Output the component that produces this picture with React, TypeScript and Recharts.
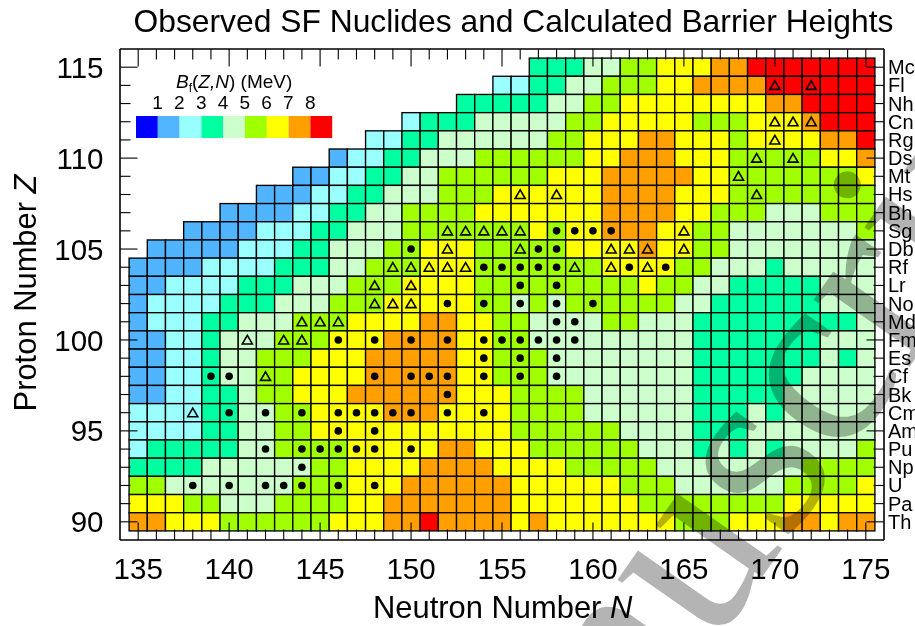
import { ScatterChart, Scatter, XAxis, YAxis } from "recharts";

// Barrier band per cell, one string per proton number, from Z=115 down to Z=90.
// Every row ends at N=175. Band k means B_f between k and k+1 MeV; spaces only group runs.
const rowsByZ = [
  "333 44 55 666 77 8888888",
  "22 33 44 555 66 7777 888888",
  "33333 44 55 66666666 77 8888",
  "2 333 44444 55 66666 555 666 7 888",
  "22 33 444444 55 666 77 666 5 6666 77 8",
  "1 22 33 444 555555 66 777 666 55555 66 7",
  "11 22 33 44 555555 666 77777 66 5555555 6",
  "111 22 33 444 555 666666 7777 666 55555555",
  "1111 22 33 44 5555 6666666 7777 66 555 444 555",
  "1111 222 33 444 5555555 6 5 66 777 66 55 4444444 5",
  "11111 222 33 444 55 666 55555 6666 7 66 55 44444444",
  "1111 2222 333 44 555 666 5555555 6666 55 444 3 44444",
  "11 2222 333 444 555 6666 555555555 6 55 44 33333 444",
  "1 2222 333 444 555 66666 55 4 5 4 555555 44 333333 444",
  "1 222 33 444 555 6666 77 66 55 4444 55 444 333333333 4",
  "11 22 3 444 555 666 7777 66 55 444444444 3333333 444",
  "11 22 3 44 555 666 77777 66 555 44444444 3333333 4 3 4",
  "11 22 3 44 55 6666 77777 66 555 44444444 333333 4444",
  "11 22 33 4 55 666 777777 666 5555 444444 33333 44444",
  "2222 33 44 55 6666 777 6666 5555 444444 333 4 3 44444",
  "2222 33 44 55 66666666666 555555 4444 333 4444444",
  "2 33333 44 5555 66666 77 666 555555 444 3 4 3 4 3 4444 5",
  "3333 444444 55 6666 7777 6666 55555 44444444 5555",
  "55 4444444 555 666 777777 666666 555 444444 5555 6",
  "666 55 444 5555 66 7777777 6666666 55555555 66666",
  "77 666 555555 666 77 8 7777 6 7 6666666 555 666 77 6 77",
];

// Observed spontaneous fission nuclides: neutron numbers per proton number
const measuredSF: [number, number[]][] = [
  [106, [158, 159, 160, 161]],
  [105, [150, 157, 158]],
  [104, [154, 155, 156, 157, 158, 162, 164]],
  [103, [156, 158]],
  [102, [152, 154, 156, 158, 160]],
  [101, [158, 159]],
  [100, [146, 148, 150, 152, 154, 155, 156, 157, 158, 159]],
  [99, [154, 156, 158]],
  [98, [139, 140, 148, 150, 151, 152, 154, 156, 158]],
  [97, [152]],
  [96, [140, 142, 144, 146, 147, 148, 149, 150, 152, 154]],
  [95, [146, 148]],
  [94, [142, 144, 145, 146, 147, 148, 150]],
  [93, [144]],
  [92, [138, 140, 142, 143, 144, 146, 148]],
];
const partialSF: [number, number[]][] = [
  [114, [170, 172]],
  [112, [170, 171, 172]],
  [111, [170]],
  [110, [169, 171]],
  [109, [168]],
  [108, [156, 158, 169]],
  [106, [152, 153, 154, 155, 156, 165]],
  [105, [152, 156, 161, 162, 163, 165]],
  [104, [149, 150, 151, 152, 153, 159, 161, 163]],
  [103, [148, 150]],
  [102, [148, 149, 150]],
  [101, [144, 145, 146]],
  [100, [141, 143, 144]],
  [98, [142]],
  [96, [138]],
];

const elements = [
  "Th", "Pa", "U", "Np", "Pu", "Am", "Cm", "Bk", "Cf", "Es", "Fm", "Md", "No",
  "Lr", "Rf", "Db", "Sg", "Bh", "Hs", "Mt", "Ds", "Rg", "Cn", "Nh", "Fl", "Mc",
];
const neutronTicks = [
  135, 136, 137, 138, 139, 140, 141, 142, 143, 144, 145, 146, 147, 148, 149, 150, 151, 152, 153, 154, 155,
  156, 157, 158, 159, 160, 161, 162, 163, 164, 165, 166, 167, 168, 169, 170, 171, 172, 173, 174, 175,
];
const protonTicks = [
  90, 91, 92, 93, 94, 95, 96, 97, 98, 99, 100, 101, 102, 103, 104, 105, 106, 107, 108, 109, 110, 111, 112,
  113, 114, 115,
];
const bandColors = ["#0000ff", "#50b4ff", "#99ffff", "#00ffa0", "#ccffcc", "#a0ff00", "#ffff00", "#ffa000", "#ff0000"];
const legendLabels = ["1", "2", "3", "4", "5", "6", "7", "8"];

const CELL_W = 764 / 42;
const CELL_H = 491 / 27;
const FONT = "'Liberation Sans', Arial, sans-serif";

const cells = rowsByZ.flatMap((row, i) => {
  const bands = row.replace(/ /g, "");
  return bands.split("").map((b, j) => ({
    n: 176 - bands.length + j,
    z: 115 - i,
    band: Number(b),
  }));
});
const toPoints = (list: [number, number[]][]) => list.flatMap(([z, ns]) => ns.map((n) => ({ n, z })));
const circles = toPoints(measuredSF);
const triangles = toPoints(partialSF);

const CellShape = (p: any) => (
  <rect
    x={p.cx - CELL_W / 2}
    y={p.cy - CELL_H / 2}
    width={CELL_W}
    height={CELL_H}
    fill={bandColors[p.payload.band]}
    stroke="#000"
    strokeWidth={1.35}
  />
);
const CircleShape = (p: any) => <circle cx={p.cx} cy={p.cy} r={3.8} fill="#000" />;
const TriangleShape = (p: any) => (
  <path
    d={`M${p.cx - 5} ${p.cy + 4}L${p.cx} ${p.cy - 4.6}L${p.cx + 5} ${p.cy + 4}Z`}
    fill="none"
    stroke="#000"
    strokeWidth={1.6}
  />
);
// Only there so that the top and right axes have a series and draw their ticks
const NoShape = () => null;

// Ticks point inward on all four sides, long ones every 5
const BottomTick = (p: any) => {
  const v = p.payload.value;
  const major = v % 5 === 0;
  return (
    <g>
      <line x1={p.x} x2={p.x} y1={p.y} y2={p.y - (major ? 17.5 : 10.5)} stroke="#000" strokeWidth={1.1} />
      {major && (
        <text x={p.x} y={579} textAnchor="middle" fontSize={29.5} fontFamily={FONT} fill="#000">
          {v}
        </text>
      )}
    </g>
  );
};
const TopTick = (p: any) => {
  const major = p.payload.value % 5 === 0;
  return <line x1={p.x} x2={p.x} y1={p.y} y2={p.y + (major ? 17.5 : 10.5)} stroke="#000" strokeWidth={1.1} />;
};
const LeftTick = (p: any) => {
  const v = p.payload.value;
  const major = v % 5 === 0;
  return (
    <g>
      <line x1={p.x} x2={p.x + (major ? 17.5 : 10.5)} y1={p.y} y2={p.y} stroke="#000" strokeWidth={1.1} />
      {major && (
        <text x={103.5} y={p.y + 10.6} textAnchor="end" fontSize={29.5} fontFamily={FONT} fill="#000">
          {v}
        </text>
      )}
    </g>
  );
};
const RightTick = (p: any) => {
  const v = p.payload.value;
  const major = v % 5 === 0;
  return (
    <g>
      <line x1={p.x} x2={p.x - (major ? 17.5 : 10.5)} y1={p.y} y2={p.y} stroke="#000" strokeWidth={1.1} />
      <text x={888} y={p.y + 7} fontSize={20} fontFamily={FONT} fill="#000">
        {elements[v - 90]}
      </text>
    </g>
  );
};

const BarrierLegend = () => (
  <g fontFamily={FONT} fill="#000">
    <text x={176} y={88} fontSize={19}>
      <tspan fontStyle="italic">B</tspan>
      <tspan fontSize={12} dy={4}>f</tspan>
      <tspan dy={-4}>(</tspan>
      <tspan fontStyle="italic">Z,N</tspan>
      <tspan>) (MeV)</tspan>
    </text>
    {bandColors.map((c, i) => (
      <rect key={c} x={136 + i * 21.8} y={116} width={21.8} height={22} fill={c} />
    ))}
    {legendLabels.map((l, i) => (
      <text key={l} x={157.6 + i * 21.8} y={109} textAnchor="middle" fontSize={19}>
        {l}
      </text>
    ))}
  </g>
);

export default function App() {
  return (
    <div style={{ position: "absolute", left: 0, top: 0, width: 915, height: 626, overflow: "hidden" }}>
      <ScatterChart width={915} height={626} margin={{ top: 39, right: 1, bottom: 26, left: 80 }}>
        <Scatter data={cells} xAxisId="bottom" yAxisId="left" shape={CellShape} isAnimationActive={false} />
        <Scatter data={circles} xAxisId="bottom" yAxisId="left" shape={CircleShape} isAnimationActive={false} />
        <Scatter data={triangles} xAxisId="bottom" yAxisId="left" shape={TriangleShape} isAnimationActive={false} />
        <Scatter data={cells} xAxisId="top" yAxisId="right" shape={NoShape} isAnimationActive={false} />
        <XAxis
          xAxisId="bottom"
          dataKey="n"
          type="number"
          domain={[134, 176]}
          ticks={neutronTicks}
          interval={0}
          height={60}
          tickSize={0}
          tickMargin={0}
          tick={BottomTick}
          axisLine={{ stroke: "#000", strokeWidth: 1.6 }}
          zIndex={900}
        />
        <XAxis
          xAxisId="top"
          orientation="top"
          dataKey="n"
          type="number"
          domain={[134, 176]}
          ticks={neutronTicks}
          interval={0}
          height={10}
          tickSize={0}
          tickMargin={0}
          tick={TopTick}
          axisLine={{ stroke: "#000", strokeWidth: 1.6 }}
          zIndex={900}
        />
        <YAxis
          yAxisId="left"
          dataKey="z"
          type="number"
          domain={[89, 116]}
          ticks={protonTicks}
          interval={0}
          width={40}
          tickSize={0}
          tickMargin={0}
          tick={LeftTick}
          axisLine={{ stroke: "#000", strokeWidth: 1.6 }}
          zIndex={900}
        />
        <YAxis
          yAxisId="right"
          orientation="right"
          dataKey="z"
          type="number"
          domain={[89, 116]}
          ticks={protonTicks}
          interval={0}
          width={30}
          tickSize={0}
          tickMargin={0}
          tick={RightTick}
          axisLine={{ stroke: "#000", strokeWidth: 1.6 }}
          zIndex={900}
        />
        <text x={513.5} y={32} textAnchor="middle" fontSize={31.8} fontFamily={FONT} fill="#000">
          Observed SF Nuclides and Calculated Barrier Heights
        </text>
        <text x={373} y={618} fontSize={30.9} fontFamily={FONT} fill="#000">
          Neutron Number <tspan fontStyle="italic">N</tspan>
        </text>
        <text
          transform="translate(36 293) rotate(-90)"
          textAnchor="middle"
          fontSize={30.9}
          fontFamily={FONT}
          fill="#000"
        >
          Proton Number <tspan fontStyle="italic">Z</tspan>
        </text>
        <BarrierLegend />
      </ScatterChart>
      <div
        style={{
          position: "absolute",
          left: 373,
          top: 983,
          fontFamily: "'Liberation Serif', serif",
          fontSize: 255,
          lineHeight: 0,
          whiteSpace: "nowrap",
          color: "#b4b4b4",
          mixBlendMode: "multiply",
          transformOrigin: "0 0",
          transform: "rotate(-55deg)",
          pointerEvents: "none",
        }}
      >
        Manuscript
      </div>
    </div>
  );
}
